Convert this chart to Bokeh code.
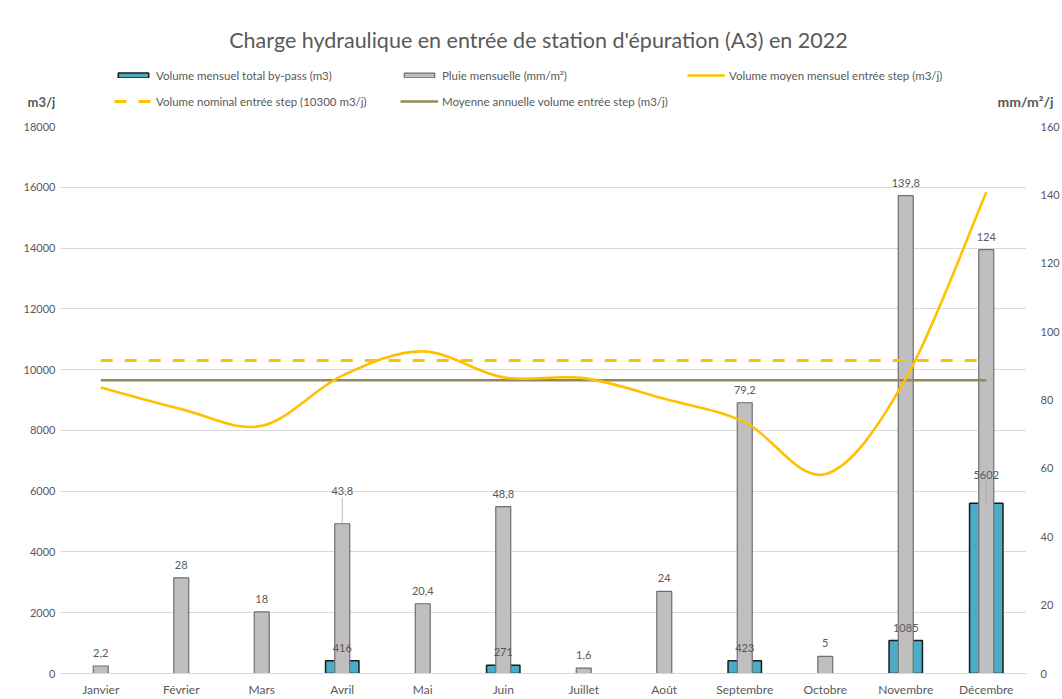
from bokeh.plotting import figure
from bokeh.layouts import column
from bokeh.models import Range1d, LinearAxis, FixedTicker, Label, Legend, LegendItem, ColumnDataSource
from bokeh.core.properties import value
from bokeh.embed import file_html
from bokeh.resources import INLINE

# ---------------- data ----------------
months = ["Janvier", "Février", "Mars", "Avril", "Mai", "Juin", "Juillet",
          "Août", "Septembre", "Octobre", "Novembre", "Décembre"]
bypass = [None, None, None, 416, None, 271, None, None, 423, None, 1085, 5602]
rain = [2.2, 28, 18, 43.8, 20.4, 48.8, 1.6, 24, 79.2, 5, 139.8, 124]
rain_labels = ["2,2", "28", "18", "43,8", "20,4", "48,8", "1,6", "24", "79,2", "5", "139,8", "124"]
volume_mean = [9410, 8700, 8150, 9800, 10600, 9745, 9720, 9040, 8270, 6560, 9700, 15840]
nominal = 10300
annual_mean = 9650
left_ticks = [0, 2000, 4000, 6000, 8000, 10000, 12000, 14000, 16000, 18000]
right_ticks = [0, 20, 40, 60, 80, 100, 120, 140, 160]

title = "Charge hydraulique en entrée de station d'épuration (A3) en 2022"
leg_bypass = "Volume mensuel total by-pass (m3)"
leg_rain = "Pluie mensuelle (mm/m²)"
leg_mean = "Volume moyen mensuel entrée step (m3/j)"
leg_nominal = "Volume nominal entrée step (10300 m3/j)"
leg_annual = "Moyenne annuelle volume entrée step (m3/j)"
left_unit = "m3/j"
right_unit = "mm/m²/j"

# ---------------- style ----------------
FONT = "Lato"
GREY_TXT = "#595959"
BLUE = "#4BACC6"
BLUE_LINE = "#1a1a1a"
GREY_BAR = "#BFBFBF"
GREY_BAR_LINE = "#6f6f6f"
YELLOW = "#FFC000"
OLIVE = "#948A54"
W = 1062
TOP_H = 112
NUM_SIZE = "11px"
# labels moved away from their bar, with a leader line (px)
rain_raise = {"Avril": 20}
bypass_raise = {"Décembre": 15}

idx = list(range(len(months)))

def plain_axis(ax, standoff, size):
    ax.axis_line_color = None
    ax.major_tick_line_color = None
    ax.minor_tick_line_color = None
    ax.major_tick_out = 0
    ax.major_tick_in = 0
    ax.minor_tick_out = 0
    ax.minor_tick_in = 0
    ax.major_label_standoff = standoff
    ax.major_label_text_font = FONT
    ax.major_label_text_font_size = size
    ax.major_label_text_color = GREY_TXT

# ================= main chart =================
p = figure(width=W, height=587,
           x_range=Range1d(-0.5, len(months) - 0.5),
           y_range=Range1d(left_ticks[0], left_ticks[-1]),
           output_backend="svg", toolbar_location=None,
           min_border_left=60, min_border_right=33,
           min_border_top=14, min_border_bottom=26)
p.frame_align = False
p.extra_y_ranges = {"rain": Range1d(right_ticks[0], right_ticks[-1])}
p.outline_line_color = None
p.background_fill_color = "white"
p.border_fill_color = "white"

p.xaxis.ticker = FixedTicker(ticks=idx)
p.xaxis.major_label_overrides = {i: m for i, m in zip(idx, months)}
plain_axis(p.xaxis[0], 8, "12px")
p.xaxis.axis_line_color = "#d9d9d9"

p.yaxis.ticker = FixedTicker(ticks=left_ticks)
plain_axis(p.yaxis[0], 5, NUM_SIZE)

ra = LinearAxis(y_range_name="rain", ticker=FixedTicker(ticks=right_ticks))
plain_axis(ra, 14, NUM_SIZE)
p.add_layout(ra, "right")

p.xgrid.visible = False
p.ygrid.grid_line_color = "#d9d9d9"
p.ygrid.grid_line_width = 1

# bypass bars (primary axis)
bx = [i for i, v in zip(idx, bypass) if v is not None]
bv = [v for v in bypass if v is not None]
bsrc = ColumnDataSource(dict(x=bx, top=bv, lab=[str(v) for v in bv]))
p.vbar(x="x", top="top", width=0.415, source=bsrc,
       fill_color=BLUE, line_color=BLUE_LINE, line_width=1.5)

# rain bars (secondary axis)
rsrc = ColumnDataSource(dict(x=idx, top=rain, lab=rain_labels))
p.vbar(x="x", top="top", width=0.186, source=rsrc, y_range_name="rain",
       fill_color=GREY_BAR, line_color=GREY_BAR_LINE, line_width=1.2)

# nominal & annual mean lines
nom_src = ColumnDataSource(dict(x=[idx[0], idx[-1]], y=[nominal, nominal]))
ann_src = ColumnDataSource(dict(x=[idx[0], idx[-1]], y=[annual_mean, annual_mean]))
p.line(x="x", y="y", source=nom_src, line_color=YELLOW, line_width=3.2, line_dash="12 12")
p.line(x="x", y="y", source=ann_src, line_color=OLIVE, line_width=2.6)

# smoothed monthly mean volume (bezier segments through the data points)
n = len(volume_mean)
bz = dict(x0=[], y0=[], x1=[], y1=[], cx0=[], cy0=[], cx1=[], cy1=[])
for i in range(n - 1):
    pa = i - 1 if i > 0 else i
    pd = i + 2 if i + 2 < n else i + 1
    bz["x0"].append(idx[i]); bz["y0"].append(volume_mean[i])
    bz["x1"].append(idx[i + 1]); bz["y1"].append(volume_mean[i + 1])
    bz["cx0"].append(idx[i] + (idx[i + 1] - idx[pa]) / 6)
    bz["cy0"].append(volume_mean[i] + (volume_mean[i + 1] - volume_mean[pa]) / 6)
    bz["cx1"].append(idx[i + 1] - (idx[pd] - idx[i]) / 6)
    bz["cy1"].append(volume_mean[i + 1] - (volume_mean[pd] - volume_mean[i]) / 6)
p.bezier(source=ColumnDataSource(bz), x0="x0", y0="y0", x1="x1", y1="y1",
         cx0="cx0", cy0="cy0", cx1="cx1", cy1="cy1",
         line_color=YELLOW, line_width=2.6)
mean_src = ColumnDataSource(dict(x=idx, y=volume_mean))

# data labels
def labels(src_dict, raise_map, range_name=None):
    kw = dict(y_range_name=range_name) if range_name else {}
    norm = {k: [] for k in ("x", "top", "lab")}
    for x, t, l in zip(src_dict["x"], src_dict["top"], src_dict["lab"]):
        if months[x] in raise_map:
            dy = raise_map[months[x]]
            one = ColumnDataSource(dict(x=[x], top=[t], lab=[l]))
            p.ray(x="x", y="top", source=one, length=dy + 6, length_units="screen",
                  angle=90, angle_units="deg", line_color="#a6a6a6", line_width=0.8, **kw)
            p.text(x="x", y="top", text="lab", source=one, text_align="center",
                   text_baseline="bottom", y_offset=-9 - dy, text_font=value(FONT),
                   text_font_size=NUM_SIZE, text_color=GREY_TXT, **kw)
        else:
            norm["x"].append(x); norm["top"].append(t); norm["lab"].append(l)
    p.text(x="x", y="top", text="lab", source=ColumnDataSource(norm),
           text_align="center", text_baseline="bottom", y_offset=-9,
           text_font=value(FONT), text_font_size=NUM_SIZE, text_color=GREY_TXT, **kw)

labels(rsrc.data, rain_raise, "rain")
labels(bsrc.data, bypass_raise)

# ================= header (title, legend, axis units) =================
top = figure(width=W, height=TOP_H, x_range=Range1d(0, W), y_range=Range1d(TOP_H, 0),
             output_backend="svg", toolbar_location=None,
             x_axis_location=None, y_axis_location=None,
             min_border=0, min_border_left=0, min_border_right=0,
             min_border_top=0, min_border_bottom=0)
top.frame_align = False
top.grid.visible = False
top.outline_line_color = None
top.background_fill_color = "white"
top.border_fill_color = "white"

top.add_layout(Label(x=538, y=39, text=title, text_align="center", text_baseline="middle",
                     text_font=FONT, text_font_size="21.5px", text_color=GREY_TXT))
top.add_layout(Label(x=27, y=101, text=left_unit, text_align="left", text_baseline="middle",
                     text_font=FONT, text_font_size="13px", text_font_style="bold",
                     text_color=GREY_TXT))
top.add_layout(Label(x=997, y=101, text=right_unit, text_align="left", text_baseline="middle",
                     text_font=FONT, text_font_size="14px", text_font_style="bold",
                     text_color=GREY_TXT))

# hidden stand-in renderers for the legend swatches (same data, not drawn)
lg_bypass = top.vbar(x="x", top="top", width=1, source=bsrc, fill_color=BLUE,
                     line_color=BLUE_LINE, line_width=1.5, visible=False)
lg_rain = top.vbar(x="x", top="top", width=1, source=rsrc, fill_color=GREY_BAR,
                   line_color=GREY_BAR_LINE, line_width=1.2, visible=False)
lg_mean = top.line(x="x", y="y", source=mean_src, line_color=YELLOW, line_width=2.6, visible=False)
lg_nom = top.line(x="x", y="y", source=nom_src, line_color=YELLOW, line_width=3.2,
                  line_dash="12 12", visible=False)
lg_ann = top.line(x="x", y="y", source=ann_src, line_color=OLIVE, line_width=2.6, visible=False)

def add_leg(label, rend, x, y):
    lg = Legend(items=[LegendItem(label=label, renderers=[rend])], location=(x, y),
                orientation="horizontal", padding=0, margin=0, spacing=0,
                border_line_color=None, background_fill_alpha=0,
                inactive_fill_alpha=0,
                glyph_width=38, glyph_height=6, label_standoff=4, label_height=14,
                label_text_font=FONT, label_text_font_size="11.5px",
                label_text_color=GREY_TXT)
    top.add_layout(lg)

add_leg(leg_bypass, lg_bypass, 114, 30)
add_leg(leg_rain, lg_rain, 400, 30)
add_leg(leg_mean, lg_mean, 687, 30)
add_leg(leg_nominal, lg_nom, 114, 4)
add_leg(leg_annual, lg_ann, 400, 4)

layout = column(top, p, spacing=0)
open("out.html", "w").write(file_html(layout, INLINE))
